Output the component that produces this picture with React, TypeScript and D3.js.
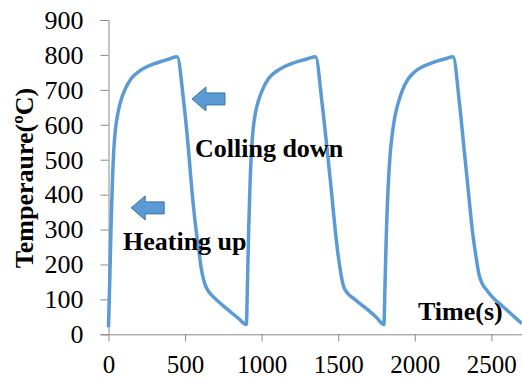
import React, { useEffect, useRef } from 'react';
import * as d3 from 'd3';

// time (s) and temperature (°C), three heating / cooling cycles
const timeS = [
  0, 8, 16, 25, 35, 45, 60, 80, 110, 150, 200, 250, 300, 350, 400, 448,
  490, 520, 545, 570, 590, 605, 625, 650, 690, 740, 800, 850, 900,
  908, 916, 925, 935, 945, 960, 980, 1010, 1050, 1100, 1150, 1200, 1250, 1300, 1352,
  1395, 1425, 1455, 1480, 1500, 1515, 1533, 1560, 1600, 1642, 1700, 1750, 1798,
  1806, 1815, 1827, 1840, 1855, 1870, 1890, 1920, 1955, 2000, 2050, 2100, 2150, 2200, 2250,
  2292, 2322, 2349, 2375, 2403, 2420, 2440, 2469, 2510, 2560, 2600, 2650, 2700,
];
const tempC = [
  20, 150, 300, 430, 530, 585, 630, 668, 703, 733, 753, 766, 775, 782, 789, 795,
  670, 540, 410, 305, 240, 190, 150, 125, 105, 85, 63, 45, 28,
  160, 310, 440, 535, 590, 635, 670, 705, 735, 754, 767, 776, 783, 789, 795,
  660, 540, 413, 300, 225, 180, 140, 118, 103, 88, 68, 48, 28,
  150, 300, 430, 520, 580, 623, 660, 700, 730, 752, 766, 775, 783, 789, 795,
  660, 530, 413, 300, 213, 170, 145, 127, 105, 85, 70, 50, 31,
];

const xTicks = [0, 500, 1000, 1500, 2000, 2500];
const yTicks = [0, 100, 200, 300, 400, 500, 600, 700, 800, 900];

// block arrows pointing left: tip at [t, T]
const arrowTips = [
  [545, 674],
  [148, 362],
];

const W = 522;
const H = 379;

export default function App() {
  const ref = useRef<SVGSVGElement>(null);

  useEffect(() => {
    const svg = d3.select(ref.current);
    svg.selectAll('*').remove();

    const x = d3.scaleLinear().domain([0, 2700]).range([108.5, 522]);
    const y = d3.scaleLinear().domain([0, 900]).range([334.3, 20]);

    const axisColor = '#898989';
    const font = "'Liberation Serif', 'Times New Roman', serif";
    const fs = 26;

    // y axis
    const yAxis = svg
      .append('g')
      .attr('transform', `translate(${x(0)},0)`)
      .call(d3.axisLeft(y).tickValues(yTicks).tickSize(8).tickPadding(17).tickFormat(d3.format('d')));
    yAxis.attr('font-family', null).attr('font-size', null);
    yAxis.select('.domain').attr('stroke', axisColor);
    yAxis.selectAll('.tick line').attr('stroke', axisColor);
    yAxis
      .selectAll('.tick text')
      .style('font-family', font)
      .style('font-size', fs + 'px')
      .attr('fill', '#000');

    // x axis
    const xAxis = svg
      .append('g')
      .attr('transform', `translate(0,${y(0)})`)
      .call(
        d3.axisBottom(x).tickValues(xTicks).tickSize(7).tickSizeOuter(0).tickPadding(14).tickFormat(d3.format('d'))
      );
    xAxis.attr('font-family', null).attr('font-size', null);
    xAxis.select('.domain').attr('stroke', axisColor);
    xAxis.selectAll('.tick line').attr('stroke', axisColor);
    xAxis
      .selectAll('.tick text')
      .style('font-family', font)
      .style('font-size', '25px')
      .attr('fill', '#000');

    // curve
    const pts: [number, number][] = timeS.map((t, i) => [t, tempC[i]]);
    svg
      .append('path')
      .datum(pts)
      .attr('fill', 'none')
      .attr('stroke', '#5B9BD5')
      .attr('stroke-width', 3.5)
      .attr('stroke-linejoin', 'round')
      .attr(
        'd',
        d3
          .line<[number, number]>()
          .x((d) => x(d[0]))
          .y((d) => y(d[1]))
          .curve(d3.curveMonotoneX)
      );

    // arrows
    arrowTips.forEach(([t, T]) => {
      const px = x(t);
      const py = y(T);
      const headL = 14;
      const headH = 12;
      const shaftH = 6;
      const len = 33;
      const p = [
        [px, py],
        [px + headL, py - headH],
        [px + headL, py - shaftH],
        [px + len, py - shaftH],
        [px + len, py + shaftH],
        [px + headL, py + shaftH],
        [px + headL, py + headH],
      ];
      svg
        .append('path')
        .attr('d', 'M' + p.map((q) => q.join(',')).join('L') + 'Z')
        .attr('fill', '#5B9BD5')
        .attr('stroke', '#41719C')
        .attr('stroke-width', 1);
    });

    // labels
    const label = (txt: string, lx: number, ly: number) =>
      svg
        .append('text')
        .attr('x', lx)
        .attr('y', ly)
        .style('font-family', font)
        .style('font-weight', 'bold')
        .style('font-size', fs + 'px')
        .attr('fill', '#000')
        .text(txt);

    label('Colling down', 195, 157);
    label('Heating up', 123, 250);
    label('Time(s)', 418, 320);

    svg
      .append('text')
      .attr('transform', 'translate(33,178) rotate(-90)')
      .attr('text-anchor', 'middle')
      .style('font-family', font)
      .style('font-weight', 'bold')
      .style('font-size', fs + 'px')
      .attr('fill', '#000')
      .text('Temperaure(ºC)');
  }, []);

  return (
    <svg
      ref={ref}
      width={W}
      height={H}
      style={{ position: 'absolute', left: 0, top: 0, background: '#fff' }}
    />
  );
}
